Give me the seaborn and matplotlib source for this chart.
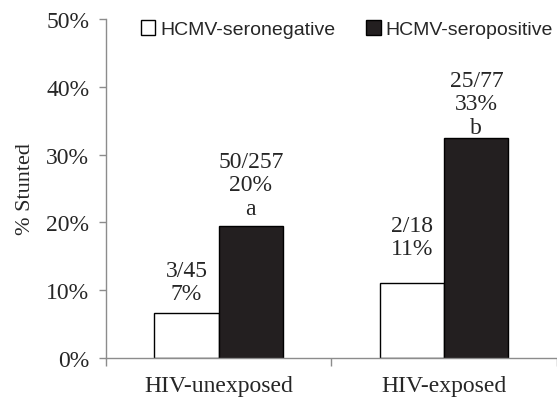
import numpy as np
import pandas as pd
import matplotlib
matplotlib.use('Agg')
import matplotlib.pyplot as plt
import seaborn as sns
from matplotlib.patches import Patch
from matplotlib.ticker import PercentFormatter

# data
groups = ['HIV-unexposed', 'HIV-exposed']
status = ['HCMV-seronegative', 'HCMV-seropositive']
neg_vals = [0.067, 0.111]
pos_vals = [0.195, 0.325]
neg_labels = ['3/45\n7%', '2/18\n11%']
pos_labels = ['50/257\n20%\na', '25/77\n33%\nb']
neg_offsets = [6, 17]   # points above the bar
pos_offsets = [5, 0]

df = pd.DataFrame({
    'group': groups * 2,
    'status': [status[0]] * 2 + [status[1]] * 2,
    'value': neg_vals + pos_vals,
})

sns.set_style('white')
serif = ['Liberation Serif', 'DejaVu Serif']
sans = ['Liberation Sans', 'DejaVu Sans']
grey = '#8c8c8c'

fig = plt.figure(figsize=(5.57, 4.02), dpi=100)
ax = fig.add_axes([0.19, 0.107, 0.81, 0.843])

palette = {status[0]: 'white', status[1]: '#231f20'}
sns.barplot(data=df, x='group', y='value', hue='status', order=groups,
            hue_order=status, palette=palette, width=0.57, edgecolor='black',
            linewidth=1, saturation=1, legend=False, ax=ax)

ax.set_xlim(-0.5, 1.49)
ax.set_ylim(0, 0.5)
ax.set_yticks(np.arange(0, 0.51, 0.1))
ax.yaxis.set_major_formatter(PercentFormatter(1.0, decimals=0))
ax.set_ylabel('% Stunted', family=serif, fontsize=16, labelpad=8)
ax.set_xlabel('')

for lab in ax.get_yticklabels() + ax.get_xticklabels():
    lab.set_family(serif)
    lab.set_fontsize(17)

ax.tick_params(axis='y', length=5, color=grey, width=1, left=True, pad=7)
ax.tick_params(axis='x', which='major', length=0, pad=12)
ax.set_xticks([-0.5, 0.5, 1.5], minor=True)
ax.tick_params(axis='x', which='minor', length=6, color=grey, width=1, bottom=True)

for s in ['top', 'right']:
    ax.spines[s].set_visible(False)
for s in ['left', 'bottom']:
    ax.spines[s].set_color(grey)
    ax.spines[s].set_linewidth(1)

# value labels above bars
bars = ax.patches
neg_bars = bars[:2]
pos_bars = bars[2:4]
for b, txt, off in zip(neg_bars, neg_labels, neg_offsets):
    ax.annotate(txt, (b.get_x() + b.get_width() / 2, b.get_height()),
                xytext=(0, off), textcoords='offset points', ha='center',
                va='bottom', family=serif, fontsize=17, linespacing=1.15)
for b, txt, off in zip(pos_bars, pos_labels, pos_offsets):
    ax.annotate(txt, (b.get_x() + b.get_width() / 2, b.get_height()),
                xytext=(0, off), textcoords='offset points', ha='center',
                va='bottom', family=serif, fontsize=17, linespacing=1.15)

handles = [Patch(facecolor='white', edgecolor='black', linewidth=1),
           Patch(facecolor='#231f20', edgecolor='black', linewidth=1)]
leg = ax.legend(handles, status, loc='center left', bbox_to_anchor=(0.06, 0.97),
                ncol=2, frameon=False, handlelength=0.75, handleheight=0.75,
                handletextpad=0.25, columnspacing=1.6, borderaxespad=0,
                prop={'family': sans, 'size': 14})

fig.savefig('out.png', dpi=100)
